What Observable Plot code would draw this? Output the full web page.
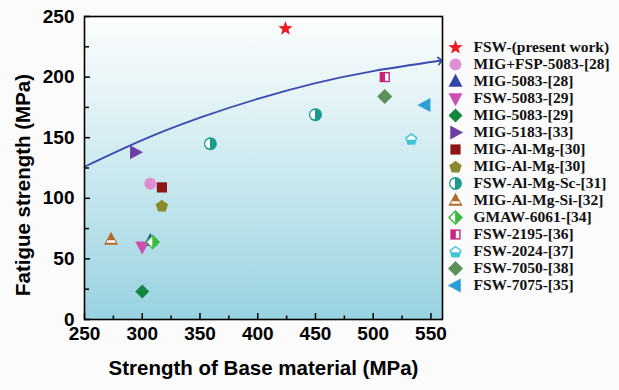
<!DOCTYPE html>
<html>
<head>
<meta charset="utf-8">
<script src="https://cdn.jsdelivr.net/npm/d3@7"></script>
<script src="https://cdn.jsdelivr.net/npm/@observablehq/plot@0.6"></script>
<style>
  html, body { margin: 0; padding: 0; background: #fbfbfb; }
  #wrap { position: relative; width: 619px; height: 390px; overflow: hidden; }
  #wrap svg { position: absolute; background: transparent; }
</style>
</head>
<body>
<div id="wrap"></div>
<script>
// ---- data ----
const seriesNames = [
  "FSW-(present work)", "MIG+FSP-5083-[28]", "MIG-5083-[28]", "FSW-5083-[29]",
  "MIG-5083-[29]", "MIG-5183-[33]", "MIG-Al-Mg-[30]", "MIG-Al-Mg-[30]",
  "FSW-Al-Mg-Sc-[31]", "MIG-Al-Mg-Si-[32]", "GMAW-6061-[34]", "FSW-2195-[36]",
  "FSW-2024-[37]", "FSW-7050-[38]", "FSW-7075-[35]"
];
const pointSeries      = [0,   1,   2,   3,   4,   5,   6,   7,   8,   8,   9,   10,  11,  12,  13,  14];
const baseStrength     = [424, 307, 307, 300, 300, 294, 317, 317, 359, 450, 273, 309, 510, 533, 510, 545];
const fatigueStrength  = [240, 112, 65,  60,  23,  138, 109, 94,  145, 169, 66,  64,  200, 149, 184, 177];
const trendX = [250, 300, 350, 400, 450, 500, 558];
const trendY = [126, 148, 166.5, 182, 195, 205, 213.5];
const xTicks = [250, 300, 350, 400, 450, 500, 550];
const xMinorTicks = [275, 325, 375, 425, 475, 525];
const yTicks = [0, 50, 100, 150, 200, 250];
const yMinorTicks = [25, 75, 125, 175, 225];
const xTitle = "Strength of Base material (MPa)";
const yTitle = "Fatigue strength (MPa)";

// ---- symbols ----
const mk = fn => ({ draw(ctx, size) { fn(ctx, Math.sqrt(size / Math.PI)); } });
const poly = pts => mk((ctx, r) => {
  ctx.moveTo(pts[0][0] * r, pts[0][1] * r);
  for (let i = 1; i < pts.length; i++) ctx.lineTo(pts[i][0] * r, pts[i][1] * r);
  ctx.closePath();
});
const circleSym = mk((ctx, r) => { ctx.moveTo(r, 0); ctx.arc(0, 0, r, 0, 2 * Math.PI); });
const halfCircleLeft = mk((ctx, r) => { const k = 0.72 * r; ctx.moveTo(-0.08 * r, k); ctx.arc(-0.08 * r, 0, k, Math.PI / 2, 3 * Math.PI / 2); ctx.closePath(); });
const pent = (k, dy = 0) => d3.range(5).map(i => { const a = -Math.PI / 2 + i * 2 * Math.PI / 5; return [k * Math.cos(a), k * Math.sin(a) + dy]; });
const starPts = d3.range(10).map(i => { const a = -Math.PI / 2 + i * Math.PI / 5; const k = i % 2 ? 0.42 : 1; return [k * Math.cos(a), k * Math.sin(a)]; });
const S = {
  star: poly(starPts),
  circle: circleSym,
  triUp: poly([[0, -1.1], [1, 0.75], [-1, 0.75]]),
  triDown: poly([[0, 1.1], [1, -0.75], [-1, -0.75]]),
  triRight: poly([[1.1, 0], [-0.75, -1], [-0.75, 1]]),
  triLeft: poly([[-1.1, 0], [0.75, -1], [0.75, 1]]),
  diamond: poly([[0, -1], [1, 0], [0, 1], [-1, 0]]),
  square: poly([[-0.85, -0.85], [0.85, -0.85], [0.85, 0.85], [-0.85, 0.85]]),
  pentagon: poly(pent(1, 0.1)),
  halfCircleLeft,
  halfDiamondLeft: poly([[-0.05, -0.7], [-0.05, 0.7], [-0.72, 0]]),
  halfSquareRight: poly([[0.05, -0.62], [0.62, -0.62], [0.62, 0.62], [0.05, 0.62]]),
  pentTop: poly([[0, -0.62], [0.66, -0.14], [0.6, 0.12], [-0.6, 0.12], [-0.66, -0.14]]),
  triBand: poly([[-0.5, 0.1], [0.5, 0.1], [0.68, 0.45], [-0.68, 0.45]])
};

// ---- styles per series ----
const seriesStyle = [
  { sym: S.star, r: 7.5, fill: "#ee1c25" },
  { sym: S.circle, r: 6, fill: "#dd8fd2" },
  { sym: S.triUp, r: 7, fill: "#3146a8" },
  { sym: S.triDown, r: 7, fill: "#cc4fb3" },
  { sym: S.diamond, r: 7, fill: "#12883f" },
  { sym: S.triRight, r: 7, fill: "#6b3fa3" },
  { sym: S.square, r: 6, fill: "#8e1516" },
  { sym: S.pentagon, r: 6.5, fill: "#8b8a2b" },
  { sym: S.circle, r: 6.5, fill: "#1a9c8c", over: S.halfCircleLeft },
  { sym: S.triUp, r: 7, fill: "#b4682c", over: S.triBand },
  { sym: S.diamond, r: 7.5, fill: "#3cba3e", over: S.halfDiamondLeft },
  { sym: S.square, r: 6, fill: "#c8247f", over: S.halfSquareRight },
  { sym: S.pentagon, r: 6.5, fill: "#3fc6d4", over: S.pentTop },
  { sym: S.diamond, r: 7.5, fill: "#5b8f5b" },
  { sym: S.triLeft, r: 7, fill: "#2b9fd6" }
];

const points = baseStrength.map((x, i) => ({ x, y: fatigueStrength[i], s: pointSeries[i] }));
const trend = trendX.map((x, i) => ({ x, y: trendY[i] }));

const symbolMarks = (getData, xo, yo) => seriesStyle.flatMap((st, si) => {
  const data = getData(si);
  const m = [Plot.dot(data, { x: xo, y: yo, symbol: st.sym, r: st.r, fill: st.fill, stroke: "none" })];
  if (st.over) m.push(Plot.dot(data, { x: xo, y: yo, symbol: st.over, r: st.r, fill: "white", stroke: "none" }));
  return m;
});

const W = 619, H = 390, mL = 84, mR = 177, mT = 16, mB = 71;
const plotW = W - mL - mR, plotH = H - mT - mB;
const sans = "'Liberation Sans', Arial, sans-serif";

const chart = Plot.plot({
  width: W, height: H,
  marginLeft: mL, marginRight: mR, marginTop: mT, marginBottom: mB,
  x: { domain: [250, 560] },
  y: { domain: [0, 250] },
  style: { background: "transparent", fontFamily: sans, color: "black" },
  marks: [
    Plot.frame({ fill: "url(#bgGrad)", stroke: "none" }),
    Plot.line(trend, { x: "x", y: "y", curve: "natural", stroke: "#3b4bb0", strokeWidth: 1.8, markerEnd: "arrow" }),
    ...symbolMarks(si => points.filter(p => p.s === si), "x", "y"),
    Plot.tickX(xTicks, { x: d => d, insetTop: plotH - 6, stroke: "black", strokeWidth: 1.5 }),
    Plot.tickX(xMinorTicks, { x: d => d, insetTop: plotH - 3.5, stroke: "black", strokeWidth: 1.5 }),
    Plot.tickY(yTicks, { y: d => d, insetRight: plotW - 6, stroke: "black", strokeWidth: 1.5 }),
    Plot.tickY(yMinorTicks, { y: d => d, insetRight: plotW - 5, stroke: "black", strokeWidth: 1.5 }),
    Plot.axisX({ ticks: xTicks, tickSize: 0, tickPadding: 7, fontSize: 19, fontWeight: "bold", label: null }),
    Plot.axisY({ ticks: yTicks, tickSize: 0, tickPadding: 10, fontSize: 19, fontWeight: "bold", label: null }),
    Plot.frame({ stroke: "black", strokeWidth: 1.6 }),
    Plot.text([xTitle], { text: d => d, frameAnchor: "bottom", textAnchor: "middle", lineAnchor: "middle", dy: 49, fontSize: 20.5, fontWeight: "bold", fill: "black" }),
    Plot.text([yTitle], { text: d => d, frameAnchor: "left", textAnchor: "middle", lineAnchor: "middle", rotate: -90, dx: -61, dy: 17, fontSize: 20.5, fontWeight: "bold", fill: "black" })
  ]
});

// gradient background of the plotting area
const ns = "http://www.w3.org/2000/svg";
const defs = document.createElementNS(ns, "defs");
const grad = document.createElementNS(ns, "linearGradient");
grad.setAttribute("id", "bgGrad");
grad.setAttribute("x1", "0"); grad.setAttribute("y1", "0");
grad.setAttribute("x2", "0"); grad.setAttribute("y2", "1");
[[0, "#fbfdfd"], [0.25, "#e6f4f7"], [0.6, "#c2e5ed"], [1, "#98d2e0"]].forEach(([o, c]) => {
  const s = document.createElementNS(ns, "stop");
  s.setAttribute("offset", o); s.setAttribute("stop-color", c);
  grad.appendChild(s);
});
defs.appendChild(grad);
chart.insertBefore(defs, chart.firstChild);
chart.style.left = "0px"; chart.style.top = "0px";

// legend
const legend = Plot.plot({
  width: 179, height: 330, margin: 0,
  x: { domain: [0, 1], range: [15, 33], axis: null },
  y: { type: "point", domain: seriesNames.map((n, i) => i), range: [31, 300.7], axis: null },
  style: { background: "transparent" },
  marks: [
    ...symbolMarks(si => [si], () => 0, d => d),
    Plot.text(seriesNames.map((n, i) => i), {
      x: () => 1, y: d => d, text: d => seriesNames[d], textAnchor: "start",
      fontFamily: "'Liberation Serif', 'Times New Roman', serif", fontWeight: "bold", fontSize: 15.5, fill: "#111"
    })
  ]
});
legend.style.left = "440px"; legend.style.top = "0px";

const wrap = document.getElementById("wrap");
wrap.appendChild(chart);
wrap.appendChild(legend);
</script>
</body>
</html>
